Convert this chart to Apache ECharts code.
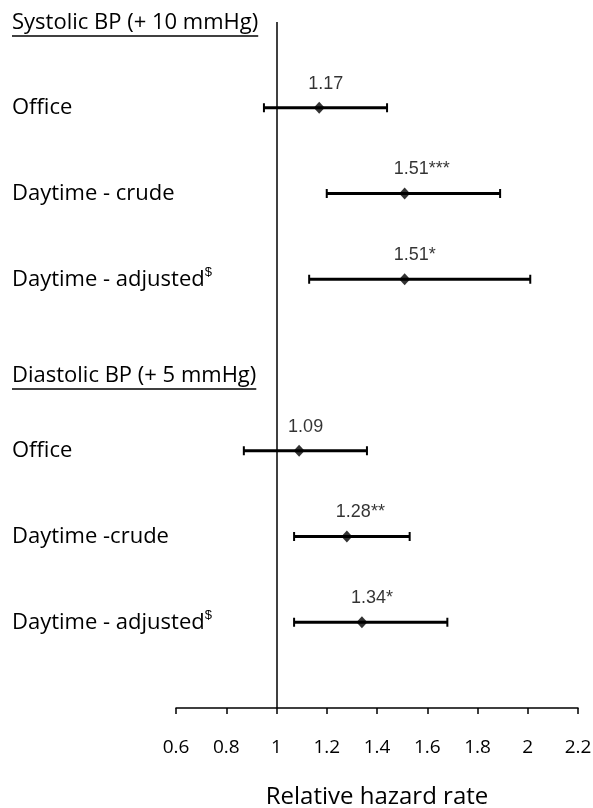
<!DOCTYPE html>
<html>
<head>
<meta charset="utf-8">
<script src="https://cdn.jsdelivr.net/npm/echarts@6/dist/echarts.min.js"></script>
<style>
  html, body { margin: 0; padding: 0; background: #fff; }
  #chart { width: 593px; height: 808px; }
</style>
</head>
<body>
<div id="chart"></div>
<script>
// row labels, estimates and 95% CI
var rowNames = ['Office', 'Daytime - crude', 'Daytime - adjusted', 'Office', 'Daytime -crude', 'Daytime - adjusted'];
var rowSup = ['', '', '$', '', '', '$'];
var rowPos = [7, 6, 5, 3, 2, 1];
var estimates = [1.17, 1.51, 1.51, 1.09, 1.28, 1.34];
var lower = [0.95, 1.20, 1.13, 0.87, 1.07, 1.07];
var upper = [1.44, 1.89, 2.01, 1.36, 1.53, 1.68];
var estLabels = ['1.17', '1.51***', '1.51*', '1.09', '1.28**', '1.34*'];

var headers = ['Systolic BP (+ 10 mmHg)', 'Diastolic BP (+ 5 mmHg)'];
var headerPos = [8, 4];

var xTicks = [0.6, 0.8, 1, 1.2, 1.4, 1.6, 1.8, 2, 2.2];

var handFont = '"Comic Sans MS", "Open Sans", sans-serif';
var numFont = '"Liberation Sans", Arial, sans-serif';

function yLabel(value) {
    var h = headerPos.indexOf(value);
    if (h >= 0) {
        // spacer line pushes the header block down a little, then text, then underline
        return '{sp' + h + '| }\n{h|' + headers[h] + '}\n{u| }';
    }
    var r = rowPos.indexOf(value);
    if (r >= 0) {
        return '{r|' + rowNames[r] + '}' + (rowSup[r] ? '{s|' + rowSup[r] + '}' : '');
    }
    return '';
}

var chart = echarts.init(document.getElementById('chart'));

var ciData = [];
var pointData = [];
for (var i = 0; i < estimates.length; i++) {
    ciData.push([lower[i], upper[i], rowPos[i]]);
    pointData.push({value: [estimates[i], rowPos[i]], name: estLabels[i]});
}

var option = {
    animation: false,
    backgroundColor: '#fff',
    grid: {left: 176, right: 15, top: 22, bottom: 100, outerBoundsMode: 'none', containLabel: false},
    xAxis: {
        type: 'value',
        min: xTicks[0],
        max: xTicks[xTicks.length - 1],
        interval: 0.2,
        name: 'Relative hazard rate',
        nameLocation: 'middle',
        nameGap: 77,
        nameTextStyle: {fontSize: 24, fontFamily: handFont, color: '#000'},
        axisLine: {lineStyle: {color: '#000', width: 1.5}},
        axisTick: {length: 6, lineStyle: {color: '#000', width: 1.5}},
        axisLabel: {margin: 30, fontSize: 19, fontFamily: handFont, color: '#000'},
        splitLine: {show: false}
    },
    yAxis: {
        type: 'value',
        min: 0,
        max: 8,
        interval: 1,
        axisLine: {show: false},
        axisTick: {show: false},
        splitLine: {show: false},
        axisLabel: {
            showMinLabel: true,
            showMaxLabel: true,
            align: 'left',
            margin: 164,
            color: '#000',
            formatter: yLabel,
            rich: {
                r: {fontSize: 22, fontFamily: handFont, color: '#000', lineHeight: 26},
                s: {fontSize: 13, fontFamily: numFont, color: '#000', verticalAlign: 'top', lineHeight: 26},
                sp0: {fontSize: 1, lineHeight: 4},
                sp1: {fontSize: 1, lineHeight: 24},
                h: {fontSize: 22, fontFamily: handFont, color: '#000', lineHeight: 24},
                u: {width: '100%', height: 1.5, lineHeight: 2, backgroundColor: '#000', fontSize: 1}
            }
        }
    },
    series: [
        {
            type: 'custom',
            data: ciData,
            encode: {x: [0, 1], y: 2},
            renderItem: function (params, api) {
                var y = api.value(2);
                var p1 = api.coord([api.value(0), y]);
                var p2 = api.coord([api.value(1), y]);
                var cap = 4.5;
                return {
                    type: 'group',
                    children: [
                        {type: 'line', shape: {x1: p1[0], y1: p1[1], x2: p2[0], y2: p2[1]}, style: {stroke: '#000', lineWidth: 3}},
                        {type: 'line', shape: {x1: p1[0], y1: p1[1] - cap, x2: p1[0], y2: p1[1] + cap}, style: {stroke: '#000', lineWidth: 2}},
                        {type: 'line', shape: {x1: p2[0], y1: p2[1] - cap, x2: p2[0], y2: p2[1] + cap}, style: {stroke: '#000', lineWidth: 2}}
                    ]
                };
            },
            z: 2
        },
        {
            type: 'scatter',
            data: pointData,
            symbol: 'diamond',
            symbolSize: [11, 12],
            itemStyle: {color: '#000'},
            label: {
                show: true,
                position: 'top',
                align: 'left',
                offset: [-11, 0],
                distance: 9,
                formatter: '{b}',
                fontSize: 18,
                fontFamily: numFont,
                color: '#000'
            },
            markLine: {
                silent: true,
                symbol: 'none',
                label: {show: false},
                lineStyle: {color: '#000', width: 1.5, type: 'solid'},
                data: [{xAxis: 1}]
            },
            z: 3
        }
    ]
};

chart.setOption(option);
</script>
</body>
</html>
